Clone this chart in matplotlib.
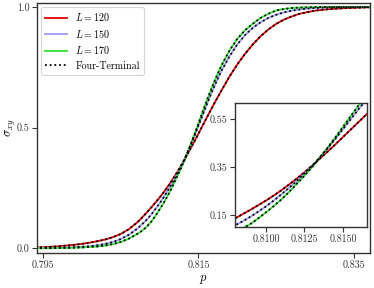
import matplotlib
matplotlib.use("Agg")
import matplotlib.pyplot as plt

plt.rcParams['font.family'] = 'serif'
plt.rcParams['font.serif'] = ['cmr10', 'DejaVu Serif']
plt.rcParams['mathtext.fontset'] = 'cm'
plt.rcParams['axes.formatter.use_mathtext'] = True

p = [0.794, 0.795, 0.796, 0.797, 0.798, 0.799, 0.800, 0.801, 0.802, 0.803, 0.804,
     0.805, 0.806, 0.807, 0.8075, 0.808, 0.8085, 0.809, 0.8095, 0.810, 0.8105,
     0.811, 0.8115, 0.812, 0.8125, 0.813, 0.8135, 0.814, 0.8145, 0.815, 0.8155,
     0.816, 0.8165, 0.817, 0.8175, 0.818, 0.819, 0.820, 0.821, 0.822, 0.823,
     0.824, 0.825, 0.826, 0.827, 0.828, 0.829, 0.830, 0.831, 0.832, 0.833,
     0.834, 0.835, 0.836, 0.837]

sigma_120 = [0.003, 0.004, 0.006, 0.008, 0.011, 0.014, 0.018, 0.023, 0.029, 0.036, 0.046,
             0.059, 0.078, 0.104, 0.119, 0.136, 0.154, 0.172, 0.191, 0.210, 0.231,
             0.253, 0.277, 0.302, 0.328, 0.356, 0.385, 0.414, 0.444, 0.475, 0.506,
             0.537, 0.568, 0.598, 0.627, 0.656, 0.712, 0.762, 0.806, 0.845, 0.879,
             0.907, 0.930, 0.948, 0.961, 0.972, 0.979, 0.985, 0.989, 0.992, 0.994,
             0.996, 0.997, 0.998, 0.999]

sigma_150 = [0.001, 0.001, 0.001, 0.002, 0.003, 0.004, 0.006, 0.008, 0.012, 0.018, 0.026,
             0.038, 0.055, 0.078, 0.092, 0.107, 0.124, 0.143, 0.164, 0.186, 0.210,
             0.236, 0.263, 0.292, 0.323, 0.355, 0.391, 0.428, 0.467, 0.508, 0.549,
             0.590, 0.630, 0.668, 0.704, 0.738, 0.796, 0.845, 0.884, 0.914, 0.937,
             0.955, 0.968, 0.978, 0.985, 0.990, 0.994, 0.996, 0.998, 0.999, 1.000,
             1.000, 1.000, 1.000, 1.000]

sigma_170 = [0.000, 0.000, 0.000, 0.001, 0.001, 0.002, 0.003, 0.005, 0.007, 0.011, 0.017,
             0.026, 0.039, 0.057, 0.067, 0.079, 0.095, 0.113, 0.136, 0.161, 0.187,
             0.215, 0.246, 0.280, 0.314, 0.350, 0.389, 0.430, 0.473, 0.517, 0.562,
             0.606, 0.648, 0.688, 0.725, 0.760, 0.820, 0.868, 0.904, 0.931, 0.955,
             0.972, 0.986, 0.992, 0.996, 0.998, 0.999, 1.000, 1.000, 1.000, 1.000,
             1.000, 1.000, 1.000, 1.000]

# four-terminal results (coincide with the two-terminal curves)
four_120 = sigma_120
four_150 = sigma_150
four_170 = sigma_170

labels = [r'$L = 120$', r'$L = 150$', r'$L = 170$']
colors = ['#e00000', '#9c9cf0', '#33e033']
series = [sigma_120, sigma_150, sigma_170]
fours = [four_120, four_150, four_170]

main_xticks = [0.795, 0.815, 0.835]
main_xticklabels = ['0.795', '0.815', '0.835']
main_yticks = [0.0, 0.5, 1.0]
main_yticklabels = ['0.0', '0.5', '1.0']
inset_xticks = [0.8100, 0.8125, 0.8150]
inset_xticklabels = ['0.8100', '0.8125', '0.8150']
inset_yticks = [0.15, 0.35, 0.55]
inset_yticklabels = ['0.15', '0.35', '0.55']

fig = plt.figure(figsize=(3.74, 2.88), dpi=100)
ax = fig.add_axes([0.0989, 0.1215, 0.8904, 0.8681])
axin = fig.add_axes([0.6283, 0.2118, 0.3530, 0.4306])

for a in (ax, axin):
    for s, c, lab in zip(series, colors, labels):
        a.plot(p, s, color=c, lw=1.3, label=lab)
    for k, f in enumerate(fours):
        a.plot(p, f, color='black', lw=1.3, ls=(0, (1, 1.6)),
               label='Four-Terminal' if k == 0 else None)
    for sp in a.spines.values():
        sp.set_color('#333333')
        sp.set_linewidth(1.0)
    a.tick_params(direction='out', length=3.5, width=0.8, colors='#333333',
                  labelsize=7.2, labelcolor='#333333', pad=2)

ax.set_xlim(0.7942, 0.8371)
ax.set_ylim(-0.02, 1.017)
ax.set_xticks(main_xticks)
ax.set_xticklabels(main_xticklabels)
ax.set_yticks(main_yticks)
ax.set_yticklabels(main_yticklabels)
ax.set_xlabel(r'$p$', fontsize=9, labelpad=2)
ax.set_ylabel(r'$\sigma_{xy}$', fontsize=9, labelpad=-1)

axin.set_xlim(0.80799, 0.81656)
axin.set_ylim(0.10, 0.617)
axin.set_xticks(inset_xticks)
axin.set_xticklabels(inset_xticklabels)
axin.set_yticks(inset_yticks)
axin.set_yticklabels(inset_yticklabels)

leg = ax.legend(loc='upper left', fontsize=7.2, frameon=True, fancybox=True,
                handlelength=2.2, borderpad=0.4, labelspacing=0.45,
                bbox_to_anchor=(0.0, 1.0), borderaxespad=0.45)
leg.get_frame().set_edgecolor('#cccccc')
leg.get_frame().set_linewidth(0.8)

fig.savefig('out.png', dpi=100)
